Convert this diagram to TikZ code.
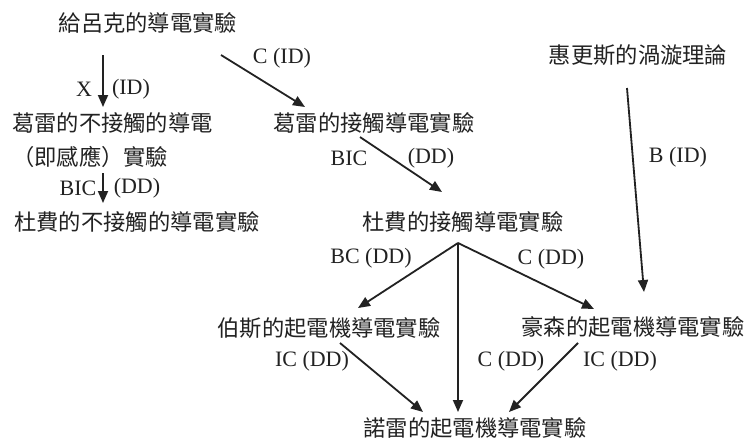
\documentclass[tikz,border=0pt]{standalone}
\usepackage{fontspec}
\setmainfont{Liberation Serif}
\newfontfamily\cjk{Noto Sans CJK TC}
\usetikzlibrary{arrows.meta}
\definecolor{ink}{HTML}{222222}
\tikzset{
  zh/.style={inner sep=0pt, text=ink, font=\cjk\fontsize{22.3}{34}\selectfont},
  lb/.style={inner sep=0pt, text=ink, font=\fontsize{22}{26}\selectfont},
  arr/.style={draw=ink, line width=1.8pt, -{Triangle[length=12pt,width=10pt]}},
}
\begin{document}
\begin{tikzpicture}[x=1pt,y=-1pt]
\useasboundingbox[fill=white] (0,0) rectangle (748,442);
% nodes
\node[zh] (gl) at (148,23) {給呂克的導電實驗};
\node[zh] (hy) at (638,55) {惠更斯的渦漩理論};
\node[zh, anchor=west, align=left] (gn) at (12,140) {葛雷的不接觸的導電\\（即感應）實驗};
\node[zh] (gc) at (374,123) {葛雷的接觸導電實驗};
\node[zh] (dn) at (137,222) {杜費的不接觸的導電實驗};
\node[zh] (dc) at (463,222) {杜費的接觸導電實驗};
\node[zh] (bs) at (329,328) {伯斯的起電機導電實驗};
\node[zh] (hs) at (633,327) {豪森的起電機導電實驗};
\node[zh] (nl) at (475,428) {諾雷的起電機導電實驗};
% connector end points
\coordinate (a1s) at (103,55);  \coordinate (a1e) at (103,107);
\coordinate (a2s) at (221,55);  \coordinate (a2e) at (305,107);
\coordinate (a3s) at (103,173); \coordinate (a3e) at (103,203);
\coordinate (a4s) at (360,137); \coordinate (a4e) at (442,192);
\coordinate (a5s) at (627,88);  \coordinate (a5e) at (644,292);
\coordinate (apex) at (458,243);
\coordinate (a6e) at (358,308);
\coordinate (a7e) at (458,412);
\coordinate (a8e) at (594,309);
\coordinate (a9s) at (340,343); \coordinate (a9e) at (423,412);
\coordinate (a10s) at (578,343); \coordinate (a10e) at (509,412);
% connectors
\draw[arr] (a1s) -- (a1e);
\draw[arr] (a2s) -- (a2e);
\draw[arr] (a3s) -- (a3e);
\draw[arr] (a4s) -- (a4e);
\draw[arr] (a5s) -- (a5e);
\draw[arr] (apex) -- (a6e);
\draw[arr] (apex) -- (a7e);
\draw[arr] (apex) -- (a8e);
\draw[arr] (a9s) -- (a9e);
\draw[arr] (a10s) -- (a10e);
% labels
\node[lb] (l1a) at (84,89) {X};
\node[lb] (l1b) at (131,89) {(ID)};
\node[lb] (l2) at (282,58) {C (ID)};
\node[lb] (l3a) at (78,188) {BIC};
\node[lb] (l3b) at (137,188) {(DD)};
\node[lb] (l4a) at (349,158) {BIC};
\node[lb] (l4b) at (431,158) {(DD)};
\node[lb] (l5) at (678,157) {B (ID)};
\node[lb] (l6) at (371,258) {BC (DD)};
\node[lb] (l7) at (551,259) {C (DD)};
\node[lb] (l8) at (312,361) {IC (DD)};
\node[lb] (l9) at (511,361) {C (DD)};
\node[lb] (l10) at (620,361) {IC (DD)};
\end{tikzpicture}
\end{document}
